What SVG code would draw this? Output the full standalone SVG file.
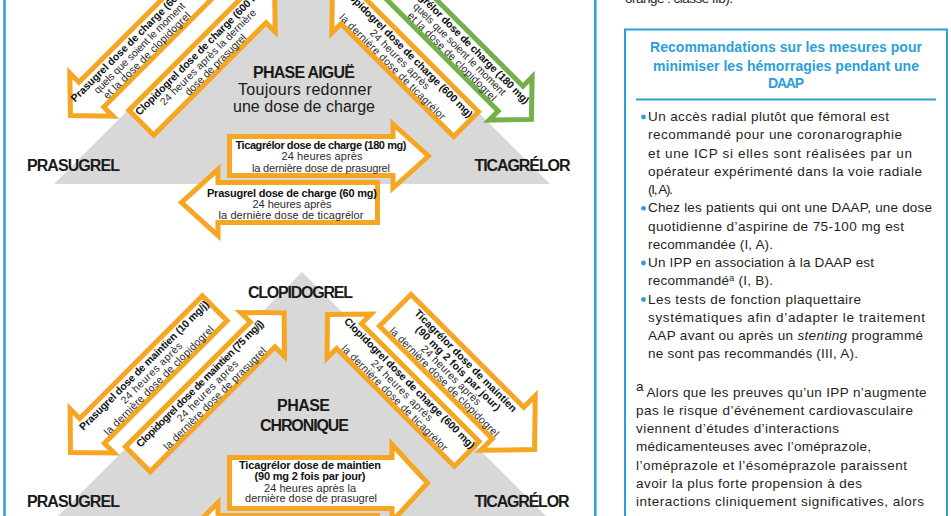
<svg xmlns="http://www.w3.org/2000/svg" width="951" height="516" viewBox="0 0 951 516">
<style>
text{font-family:'Liberation Sans',Arial,sans-serif}
.lb{font-size:16px;font-weight:bold;fill:#1a1a1a;text-anchor:middle}
.lr{font-size:16px;fill:#1a1a1a;text-anchor:middle}
.ab{font-size:10.5px;font-weight:bold;fill:#111;text-anchor:middle}
.ar{font-size:10.5px;fill:#2b2b2b;text-anchor:middle}
.hb{font-size:11px;font-weight:bold;fill:#111;text-anchor:middle}
.hr{font-size:11px;fill:#2b2b2b;text-anchor:middle}
.arw{fill:#fff;stroke:#f5a623;stroke-width:5;stroke-linejoin:miter}
.grn{stroke:#74b14a}
.tri{fill:#d8d8d8}
.bt{font-size:13.5px;fill:#231f20}
.tt{font-size:14px;font-weight:bold;fill:#2a9fd8;text-anchor:middle}
.blue{stroke:#2a9fd8;fill:none}
.dot{fill:#2a9fd8}
</style>
<rect width="951" height="516" fill="#fff"/>
<g id="frame-left" class="blue" stroke-width="2.5">
<line x1="4.5" y1="0" x2="4.5" y2="516"/>
<line x1="595.3" y1="0" x2="595.3" y2="516"/>
</g>
<g id="triangle-aigue"><polygon class="tri" points="302,-64 54,184 550,184"/></g>
<g id="triangle-chronique"><polygon class="tri" points="302,272 54,520 550,520"/></g>
<g id="connectors">
<g id="arrow-a" transform="translate(68,118) rotate(-45)">
<path class="arw" d="M3.5,0 L33,-30.5 V-17.5 H192.5 V17.5 H33 V30.5 Z"/>
<text class="ab" x="100" y="-6" textLength="168">Prasugrel dose de charge (60 mg)</text>
<text class="ar" x="100" y="4.5" textLength="124">quels que soient le moment</text>
<text class="ar" x="100" y="15" textLength="118">et la dose de clopidogrel</text>
</g>
<g id="arrow-b" transform="translate(139.5,124.5) rotate(-45)">
<path class="arw" d="M2.5,-17.5 H161.5 V-30.5 L191,0 L161.5,30.5 V17.5 H2.5 Z"/>
<text class="ab" x="96" y="-6" textLength="180">Clopidogrel dose de charge (600 mg)</text>
<text class="ar" x="96" y="4.5" textLength="131">24 heures après la dernière</text>
<text class="ar" x="96" y="15" textLength="82">dose de prasugrel</text>
</g>
<g id="arrow-c" transform="translate(396,-16) rotate(45)">
<path class="arw grn" d="M2.5,-17.5 H162 V-30.5 L191.5,0 L162,30.5 V17.5 H2.5 Z"/>
<text class="ab" x="91" y="-6" textLength="171">Ticagrélor dose de charge (180 mg)</text>
<text class="ar" x="91" y="4.5" textLength="126">quels que soient le moment</text>
<text class="ar" x="91" y="15" textLength="121">et la dose de clopidogrel</text>
</g>
<g id="arrow-d" transform="translate(330,-12) rotate(45)">
<path class="arw" d="M3.5,0 L33,-30.5 V-17.5 H192.5 V17.5 H33 V30.5 Z"/>
<text class="ab" x="100" y="-6" textLength="180">Clopidogrel dose de charge (600 mg)</text>
<text class="ar" x="100" y="4.5" textLength="80">24 heures après</text>
<text class="ar" x="100" y="15" textLength="145">la dernière dose de ticagrélor</text>
</g>
<g id="arrow-h1">
<path class="arw" d="M229.5,136.5 H393 V124 L428.5,156 L393,188 V175.5 H229.5 Z"/>
<text class="hb" x="321" y="149" textLength="171">Ticagrélor dose de charge (180 mg)</text>
<text class="hr" x="322" y="159.5" textLength="81">24 heures après</text>
<text class="hr" x="321" y="171.5" textLength="138">la dernière dose de prasugrel</text>
</g>
<g id="arrow-h2">
<path class="arw" d="M377.5,182.5 H218 V169.5 L181.5,202.5 L218,235.5 V222.5 H377.5 Z"/>
<text class="hb" x="292" y="197" textLength="170">Prasugrel dose de charge (60 mg)</text>
<text class="hr" x="292" y="207.5" textLength="79">24 heures après</text>
<text class="hr" x="291" y="219" textLength="145">la dernière dose de ticagrélor</text>
</g>
<g id="arrow-e" transform="translate(68,455) rotate(-45)">
<path class="arw" d="M3.5,0 L34,-31 V-17.5 H207.5 V17.5 H34 V31 Z"/>
<text class="ab" x="117" y="-6" textLength="178">Prasugrel dose de maintien (10 mg/j)</text>
<text class="ar" x="117" y="4.5" textLength="82">24 heures après</text>
<text class="ar" x="117" y="15" textLength="150">la dernière dose de clopidogrel</text>
</g>
<g id="arrow-f" transform="translate(136,461) rotate(-45)">
<path class="arw" d="M2.5,-17.5 H179 V-31 L209.5,0 L179,31 V17.5 H2.5 Z"/>
<text class="ab" x="100" y="-6" textLength="175">Clopidogrel dose de maintien (75 mg/j)</text>
<text class="ar" x="100" y="4.5" textLength="82">24 heures après</text>
<text class="ar" x="100" y="15" textLength="140">la dernière dose de prasugrel</text>
</g>
<g id="arrow-g" transform="translate(325,312) rotate(45)">
<path class="arw" d="M3.5,0 L34,-31 V-17.5 H200.5 V17.5 H34 V31 Z"/>
<text class="ab" x="110" y="-6" textLength="180">Clopidogrel dose de charge (600 mg)</text>
<text class="ar" x="110" y="4.5" textLength="82">24 heures après</text>
<text class="ar" x="110" y="15" textLength="145">la dernière dose de ticagrélor</text>
</g>
<g id="arrow-h" transform="translate(393.5,308.5) rotate(45)">
<path class="arw" d="M2.5,-22.25 H162 V-38.5 L199.5,0 L162,38.5 V22.25 H2.5 Z"/>
<text class="ab" x="88" y="-10.5" textLength="140">Ticagrélor dose de maintien</text>
<text class="ab" x="88" y="0" textLength="115">(90 mg 2 fois par jour)</text>
<text class="ar" x="88" y="10" textLength="80">24 heures après</text>
<text class="ar" x="88" y="19.5" textLength="150">la dernière dose de clopidogrel</text>
</g>
<g id="arrow-h3">
<path class="arw" d="M229.5,457.5 H392 V444.5 L427.5,483 L392,521.5 V508.5 H229.5 Z"/>
<text class="hb" x="310" y="469" textLength="142">Ticagrélor dose de maintien</text>
<text class="hb" x="310" y="480" textLength="111">(90 mg 2 fois par jour)</text>
<text class="hr" x="310" y="491.5" textLength="92">24 heures après la</text>
<text class="hr" x="311" y="502" textLength="132">dernière dose de prasugrel</text>
</g>
<g id="arrow-h4">
<path class="arw" d="M377.5,515.5 H218 V502.5 L181,540 L218,577 V564 H377.5 Z"/>
</g>
</g>
<g id="labels">
<text class="lb" x="304" y="77.5" textLength="102">PHASE AIGUË</text>
<text class="lr" x="305" y="94.5" textLength="134">Toujours redonner</text>
<text class="lr" x="304" y="112" textLength="142">une dose de charge</text>
<text class="lb" x="73.5" y="171" textLength="93">PRASUGREL</text>
<text class="lb" x="522.5" y="171" textLength="96">TICAGRÉLOR</text>
<text class="lb" x="300.5" y="297.5" textLength="105">CLOPIDOGREL</text>
<text class="lb" x="303.5" y="411" textLength="53">PHASE</text>
<text class="lb" x="304.5" y="431" textLength="89">CHRONIQUE</text>
<text class="lb" x="73.5" y="507" textLength="93">PRASUGREL</text>
<text class="lb" x="522" y="507" textLength="95">TICAGRÉLOR</text>
</g>
<g id="right-panel">
<text class="bt" x="625" y="2.5" textLength="108">orange : classe IIb).</text>
<rect class="blue" x="625" y="29.5" width="322" height="520" stroke-width="2"/>
<text class="tt" x="786" y="52" textLength="272">Recommandations sur les mesures pour</text>
<text class="tt" x="786" y="70.5" textLength="266">minimiser les hémorragies pendant une</text>
<text class="tt" x="786" y="87.5" textLength="36">DAAP</text>
<line class="blue" x1="636" y1="99.5" x2="936" y2="99.5" stroke-width="2.2"/>
<circle class="dot" cx="643.5" cy="117" r="2.4"/>
<circle class="dot" cx="643.5" cy="208.3" r="2.4"/>
<circle class="dot" cx="643.5" cy="263" r="2.4"/>
<circle class="dot" cx="643.5" cy="299.5" r="2.4"/>
<text class="bt" x="648" y="121" textLength="241">Un accès radial plutôt que fémoral est</text>
<text class="bt" x="648" y="139.25" textLength="254">recommandé pour une coronarographie</text>
<text class="bt" x="648" y="157.5" textLength="264">et une ICP si elles sont réalisées par un</text>
<text class="bt" x="648" y="175.75" textLength="274">opérateur expérimenté dans la voie radiale</text>
<text class="bt" x="648" y="194" textLength="25">(I, A).</text>
<text class="bt" x="648" y="212.25" textLength="284">Chez les patients qui ont une DAAP, une dose</text>
<text class="bt" x="648" y="230.5" textLength="256">quotidienne d’aspirine de 75-100 mg est</text>
<text class="bt" x="648" y="248.75" textLength="125">recommandée (I, A).</text>
<text class="bt" x="648" y="267" textLength="226">Un IPP en association à la DAAP est</text>
<text class="bt" x="648" y="285.25" textLength="125">recommandé<tspan font-size="9" dy="-4">a</tspan><tspan dy="4"> (I, B).</tspan></text>
<text class="bt" x="648" y="303.5" textLength="213">Les tests de fonction plaquettaire</text>
<text class="bt" x="648" y="321.75" textLength="277">systématiques afin d’adapter le traitement</text>
<text class="bt" x="648" y="340" textLength="275">AAP avant ou après un <tspan font-style="italic">stenting</tspan> programmé</text>
<text class="bt" x="648" y="358.25" textLength="210">ne sont pas recommandés (III, A).</text>
<text class="bt" x="636" y="391" font-size="9">a</text>
<text class="bt" x="646.5" y="396.7" textLength="280">Alors que les preuves qu’un IPP n’augmente</text>
<text class="bt" x="636" y="414.9" textLength="277">pas le risque d’événement cardiovasculaire</text>
<text class="bt" x="636" y="433.1" textLength="203">viennent d’études d’interactions</text>
<text class="bt" x="636" y="451.3" textLength="235">médicamenteuses avec l’oméprazole,</text>
<text class="bt" x="636" y="469.5" textLength="271">l’oméprazole et l’ésoméprazole paraissent</text>
<text class="bt" x="636" y="487.7" textLength="226">avoir la plus forte propension à des</text>
<text class="bt" x="636" y="505.9" textLength="288">interactions cliniquement significatives, alors</text>
</g>
</svg>
